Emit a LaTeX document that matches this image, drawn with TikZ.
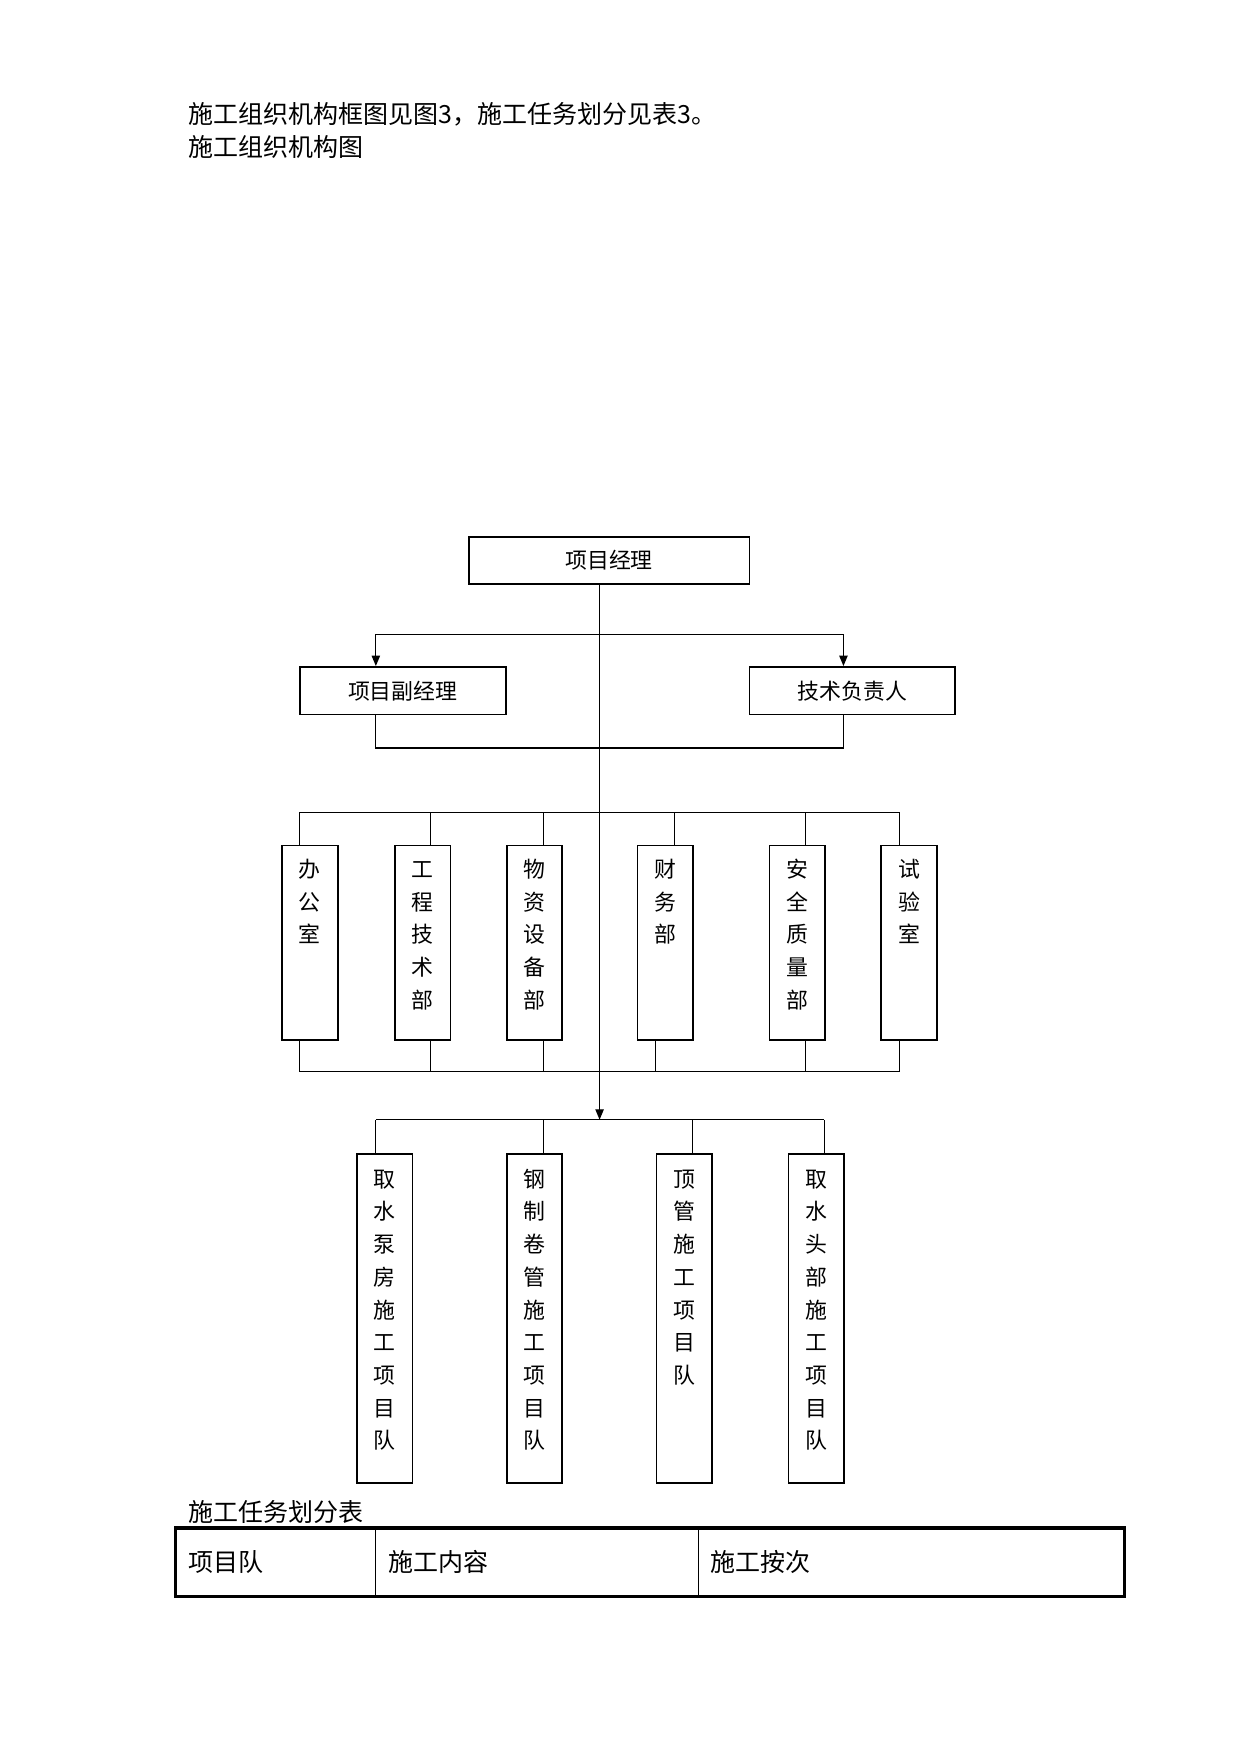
\documentclass[tikz,border=0pt]{standalone}
\usepackage{fontspec}
\setmainfont{Noto Sans CJK SC}
\usetikzlibrary{arrows.meta}
\tikzset{
    box/.style={draw, line width=0.9pt, inner sep=0pt, font=\fontsize{10.5}{15.7}\selectfont},
    head/.style={box, minimum width=#1, minimum height=22.8pt},
    tall/.style={box, align=center, text width=26.8pt},
    dept/.style={tall, text height=15.3pt, text depth=78.1pt},
    team/.style={tall, text height=15.8pt, text depth=142pt},
    link/.style={line width=0.6pt},
    arrow/.style={link, -{Triangle[length=5pt,width=4pt]}},
    texte/.style={anchor=base west, inner sep=0pt, font=\fontsize{12}{14}\selectfont},
  }
\begin{document}
\begin{tikzpicture}[x=0.5368pt,y=-0.5368pt]
	\useasboundingbox (0,0) rectangle (1109,1568);
	%texte
	\node[texte] (L1) at (168,110) {施工组织机构框图见图3，施工任务划分见表3。};
	\node[texte] (L2) at (168,140) {施工组织机构图};
	%boites
	\node[head=134.7pt] (PM) at (544.5,501) {项目经理};
	\node[head=98.8pt] (VPM) at (360,617.5) {项目副经理};
	\node[head=98.8pt] (TE) at (762,617.5) {技术负责人};
	\node[dept, anchor=north west] (D1) at (251,755) {办\\公\\室};
	\node[dept, anchor=north west] (D2) at (352,755) {工\\程\\技\\术\\部};
	\node[dept, anchor=north west] (D3) at (452,755) {物\\资\\设\\备\\部};
	\node[dept, anchor=north west] (D4) at (569,755) {财\\务\\部};
	\node[dept, anchor=north west] (D5) at (687,755) {安\\全\\质\\量\\部};
	\node[dept, anchor=north west] (D6) at (787,755) {试\\验\\室};
	\node[team, anchor=north west] (T1) at (318,1031) {取\\水\\泵\\房\\施\\工\\项\\目\\队};
	\node[team, anchor=north west] (T2) at (452,1031) {钢\\制\\卷\\管\\施\\工\\项\\目\\队};
	\node[team, anchor=north west] (T3) at (586,1031) {顶\\管\\施\\工\\项\\目\\队};
	\node[team, anchor=north west] (T4) at (704,1031) {取\\水\\头\\部\\施\\工\\项\\目\\队};
	%points de bus
	\coordinate(S) at (536,1001);
	\coordinate(A1) at (336,567);
	\coordinate(A2) at (754,567);
	\coordinate(B1) at (268,726);
	\coordinate(B2) at (804,726);
	\coordinate(B3) at (268,958);
	\coordinate(B4) at (804,958);
	\coordinate(B5) at (336,1001);
	\coordinate(B6) at (737,1001);
	%liaisons
	\draw[arrow] (PM.south -| S) -- (S);
	\draw[link] (A1) -- (A2);
	\draw[arrow] (A1) -- (A1 |- VPM.north);
	\draw[arrow] (A2) -- (A2 |- TE.north);
	\draw[link] (A1 |- VPM.south) -- ++(0,29) -| (A2 |- TE.south);
	\draw[link] (B1) -- (B2) (B5) -- (B6);
	\draw[link, line width=0.8pt] (B3) -- (B4);
	\foreach \n/\t/\b in {D1/268/268, D2/385/385, D3/486/486, D4/603/586, D5/720/720, D6/804/804}{
		\draw[link] (\t,0 |- B1) -- (\t,0 |- \n.north);
		\draw[link] (\b,0 |- \n.south) -- (\b,0 |- B3);
	}
	\foreach \n/\t in {T1/336, T2/486, T3/619, T4/737}
		\draw[link] (\t,0 |- B5) -- (\t,0 |- \n.north);
	%tableau
	\node[texte] (TH) at (168,1360) {施工任务划分表};
	\draw[line width=1.5pt] (157,1366) rectangle (1005,1427);
	\draw[line width=0.4pt] (336,1366) -- (336,1427) (624,1366) -- (624,1427);
	\node[texte] (C1) at (168,1405) {项目队};
	\node[texte] (C2) at (347,1405) {施工内容};
	\node[texte] (C3) at (635,1405) {施工按次};
\end{tikzpicture}
\end{document}
